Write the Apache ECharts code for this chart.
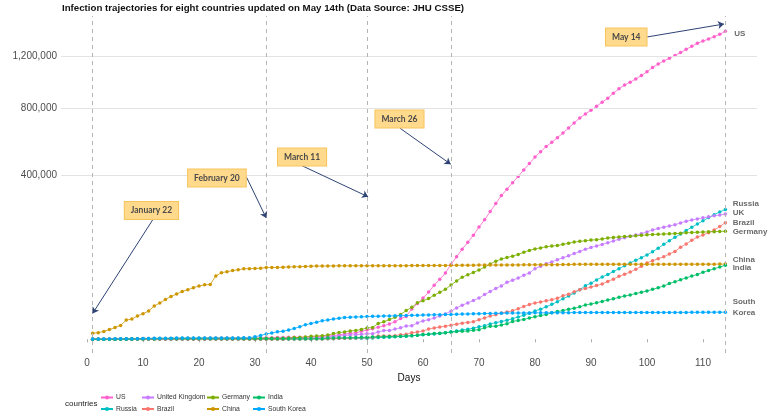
<!DOCTYPE html>
<html>
<head>
<meta charset="utf-8">
<title>Infection trajectories</title>
<script src="https://cdn.jsdelivr.net/npm/echarts@6/dist/echarts.min.js"></script>
<style>
  html, body { margin: 0; padding: 0; background: #fff; }
  #main { width: 771px; height: 417px; }
</style>
</head>
<body>
<div id="main"></div>
<script>
// cumulative confirmed cases, day 1 = Jan 22 ... day 114 = May 14
const usCases = [
  1, 1, 2, 2, 5, 5, 5, 6, 6, 8,
  8, 8, 11, 11, 12, 12, 12, 12, 12, 12, 13, 13, 15, 15, 15, 15, 15, 15, 15, 15, 35, 35, 35, 53, 53, 59, 60, 62, 70,
  76, 101, 122, 153, 221, 278, 417, 537, 605, 959, 1281, 1663, 2179, 2726, 3499, 4632, 6421, 7786, 13680, 19101, 25489, 33276, 43847, 53740, 65778, 83836, 101657, 121478, 140886, 161807, 188172,
  213372, 243762, 275586, 308853, 337072, 366667, 396223, 429052, 461437, 496535, 526396, 555313, 580619, 607670, 636350, 667801, 699706, 732197, 758809, 784326, 811865, 840351, 869170, 905358, 938154, 965785, 988197, 1012582, 1039909, 1069424,
  1103461, 1132539, 1158040, 1180375, 1204351, 1229331, 1257023, 1283929, 1309550, 1329260, 1347881, 1369376, 1390406, 1417774
]
const russiaCases = [
  0, 0, 0, 0, 0, 0, 0, 0, 0, 2,
  2, 2, 2, 2, 2, 2, 2, 2, 2, 2, 2, 2, 2, 2, 2, 2, 2, 2, 2, 2, 2, 2, 2, 2, 2, 2, 2, 2, 2,
  2, 3, 3, 3, 4, 13, 13, 17, 17, 20, 20, 28, 45, 59, 63, 90, 114, 147, 199, 253, 306, 367, 438, 495, 658, 840, 1036, 1264, 1534, 1836, 2337,
  2777, 3548, 4149, 4731, 5389, 6343, 7497, 8672, 10131, 11917, 13584, 15770, 18328, 21102, 24490, 27938, 32008, 36793, 42853, 47121, 52763, 57999, 62773, 68622, 74588, 80949, 87147, 93558, 99399, 106498,
  114431, 124054, 134687, 145268, 155370, 165929, 177160, 187859, 198676, 209688, 221344, 232243, 242271, 252245
]
const ukCases = [
  0, 0, 0, 0, 0, 0, 0, 0, 0, 2,
  2, 2, 2, 2, 2, 3, 3, 3, 3, 8, 8, 9, 9, 9, 9, 9, 9, 9, 9, 9, 9, 9, 9, 13, 13, 13, 15, 20, 23,
  36, 40, 51, 86, 116, 164, 207, 274, 322, 384, 459, 459, 802, 1144, 1145, 1551, 1960, 2642, 2716, 4014, 5067, 5745, 6726, 8164, 9640, 11812, 14745, 17312, 19780, 22453, 25481,
  29865, 34173, 38689, 42477, 48436, 52279, 55949, 61474, 65872, 74605, 79874, 85206, 89570, 94845, 99483, 104145, 109769, 115314, 121172, 125856, 130172, 134638, 139246, 144640, 149569, 154037, 158348, 162350, 166441, 172481,
  178685, 183500, 187842, 191832, 196243, 202359, 207977, 212629, 216525, 220449, 224332, 227741, 230985, 234440
]
const brazilCases = [
  0, 0, 0, 0, 0, 0, 0, 0, 0, 0,
  0, 0, 0, 0, 0, 0, 0, 0, 0, 0, 0, 0, 0, 0, 0, 0, 0, 0, 0, 0, 0, 0, 0, 0, 0, 1, 1, 1, 2,
  2, 2, 2, 4, 4, 13, 13, 20, 25, 31, 38, 52, 151, 151, 162, 200, 321, 372, 621, 793, 1021, 1546, 1924, 2247, 2554, 2985, 3417, 3904, 4256, 4579, 5717,
  6836, 8044, 9056, 10360, 11130, 12161, 14034, 16170, 18092, 19638, 20727, 22192, 23430, 25262, 28320, 30425, 33682, 36658, 38654, 40743, 43079, 45757, 50036, 54043, 59324, 63100, 67446, 73235, 79685, 87187,
  92202, 97100, 101826, 108620, 115455, 126611, 135773, 146894, 156061, 162699, 169594, 178214, 190137, 203165
]
const germanyCases = [
  0, 0, 0, 0, 0, 1, 4, 4, 4, 5,
  8, 10, 12, 12, 12, 12, 13, 13, 14, 14, 16, 16, 16, 16, 16, 16, 16, 16, 16, 16, 16, 16, 16, 16, 17, 27, 46, 48, 79,
  130, 159, 196, 262, 482, 670, 799, 1040, 1176, 1457, 1908, 2078, 3675, 4585, 5795, 7272, 9257, 12327, 15320, 19848, 22213, 24873, 29056, 32986, 37323, 43938, 50871, 57695, 62095, 66885, 71808,
  77872, 84794, 91159, 96092, 100123, 103374, 107663, 113296, 118181, 122171, 124908, 127854, 130072, 131359, 134753, 137698, 141397, 143342, 145184, 147065, 148291, 150648, 153129, 154999, 156513, 157770, 158758, 159912, 161539, 163009,
  164077, 164967, 165664, 166152, 167007, 168162, 169430, 170588, 171324, 171879, 172576, 173171, 174098, 174478
]
const chinaCases = [
  548, 643, 920, 1406, 2075, 2877, 5509, 6087, 8141, 9802,
  11891, 16630, 19716, 23707, 27440, 30587, 34110, 36814, 39829, 42354, 44386, 44759, 59895, 66358, 68413, 70513, 72434, 74211, 74619, 75077, 75550, 77001, 77022, 77241, 77754, 78166, 78600, 78928, 79356,
  79932, 80136, 80261, 80386, 80537, 80690, 80770, 80823, 80860, 80887, 80921, 80932, 80945, 80977, 81003, 81033, 81058, 81102, 81156, 81250, 81305, 81435, 81498, 81591, 81661, 81782, 81897, 81999, 82122, 82198, 82279,
  82361, 82432, 82511, 82543, 82602, 82665, 82718, 82809, 82883, 82941, 83014, 83134, 83213, 83306, 83356, 83403, 84149, 84180, 84201, 84237, 84250, 84287, 84302, 84311, 84324, 84338, 84341, 84347, 84367, 84369,
  84373, 84385, 84388, 84393, 84404, 84407, 84415, 84416, 84450, 84451, 84458, 84464, 84484, 84487
]
const indiaCases = [
  0, 0, 0, 0, 0, 0, 0, 0, 1, 1,
  1, 2, 3, 3, 3, 3, 3, 3, 3, 3, 3, 3, 3, 3, 3, 3, 3, 3, 3, 3, 3, 3, 3, 3, 3, 3, 3, 3, 3,
  3, 5, 5, 28, 30, 31, 34, 39, 43, 56, 62, 73, 82, 102, 113, 119, 142, 156, 194, 244, 330, 396, 499, 536, 657, 727, 887, 987, 1024, 1251, 1397,
  1998, 2543, 2567, 3082, 3588, 4778, 5311, 5916, 6725, 7598, 8446, 9205, 10453, 11487, 12322, 13430, 14352, 15722, 17615, 18539, 20080, 21370, 23077, 24530, 26283, 27890, 29451, 31324, 33062, 34863,
  37257, 39699, 42505, 46437, 49400, 52987, 56351, 59695, 62808, 67161, 70768, 74292, 78055, 81997
]
const koreaCases = [
  1, 1, 2, 2, 3, 4, 4, 4, 4, 11,
  12, 15, 15, 16, 19, 23, 24, 24, 25, 27, 28, 28, 28, 28, 28, 29, 30, 31, 31, 104, 204, 433, 602, 833, 977, 1261, 1766, 2337, 3150,
  3736, 4335, 5186, 5621, 6088, 6593, 7041, 7314, 7478, 7513, 7755, 7869, 7979, 8086, 8162, 8236, 8320, 8413, 8565, 8652, 8799, 8897, 8961, 9037, 9137, 9241, 9332, 9478, 9583, 9661, 9786,
  9887, 9976, 10062, 10156, 10237, 10284, 10331, 10384, 10423, 10450, 10480, 10512, 10537, 10564, 10591, 10613, 10635, 10653, 10661, 10674, 10683, 10694, 10708, 10718, 10728, 10738, 10752, 10761, 10765, 10774,
  10780, 10793, 10801, 10804, 10806, 10810, 10822, 10840, 10874, 10909, 10936, 10962, 10991, 11018
]

const countries = ['US', 'Russia', 'United Kingdom', 'Brazil', 'Germany', 'China', 'India', 'South Korea']
const countryCases = [usCases, russiaCases, ukCases, brazilCases, germanyCases, chinaCases, indiaCases, koreaCases]
const countryColors = ['#FF61CC', '#00BFC4', '#C77CFF', '#F8766D', '#7CAE00', '#CD9600', '#00BE67', '#00A9FF']
const endLabels = ['US', 'Russia', 'UK', 'Brazil', 'Germany', 'China', 'India', 'South\nKorea']

const xTicks = [0, 10, 20, 30, 40, 50, 60, 70, 80, 90, 100, 110]
const yTicks = [400000, 800000, 1200000]
const eventDays = [1, 32, 50, 65, 114]
const eventNames = ['January 22', 'February 20', 'March 11', 'March 26', 'May 14']

// layout of the call-outs, in axis units (day, sqrt of cases)
const noteBox = [[11.5, 498], [23.2, 624], [38.4, 705], [55.8, 852], [96.3, 1169]]
const noteFrom = [[11.7, 461], [28.5, 626], [38.4, 671], [55.9, 816], [100.05, 1169]]
const noteTo = [[1, 100], [32, 469], [50.2, 551], [64.95, 677], [113.75, 1219]]
const endLabelPos = [[115.6, 1183], [115.3, 522], [115.3, 488], [115.3, 452], [115.3, 416], [115.3, 309], [115.3, 277], [115.3, 123]]

// sqrt scale: the axis runs on sqrt(cases)
const sq = v => Math.sqrt(v)

let series = []
series.push({
  name: '_guides',
  type: 'line',
  data: [],
  silent: true,
  z: 1,
  markLine: {
    silent: true,
    symbol: 'none',
    animation: false,
    label: { show: false },
    data: yTicks.map(v => ({ yAxis: sq(v), lineStyle: { color: '#e3e3e3', type: 'solid', width: 1 } }))
      .concat(eventDays.map(d => ({ xAxis: d, lineStyle: { color: '#b5b5b5', type: [4, 4], width: 1 } })))
  }
})
countries.forEach((name, i) => {
  series.push({
    name: name,
    type: 'line',
    z: 2,
    symbol: 'circle',
    symbolSize: 3.5,
    color: countryColors[i],
    lineStyle: { width: 0.8 },
    emphasis: { disabled: true },
    data: countryCases[i].map((v, k) => [k + 1, sq(v)])
  })
})
series.push({
  name: '_notes',
  type: 'line',
  data: [],
  silent: true,
  z: 3,
  markLine: {
    silent: true,
    animation: false,
    symbol: ['none', 'arrow'],
    symbolSize: 6,
    label: { show: false },
    lineStyle: { color: '#2F4374', type: 'solid', width: 1 },
    data: noteFrom.map((p, i) => [{ coord: p }, { coord: noteTo[i] }])
  },
  markPoint: {
    silent: true,
    animation: false,
    symbolSize: 0,
    data: eventNames.map((t, i) => ({
      coord: noteBox[i],
      label: {
        show: true,
        position: 'inside',
        formatter: t,
        fontFamily: 'Lato',
        fontWeight: 'bold',
        fontSize: 8.5,
        lineHeight: 9,
        color: '#4a4a4a',
        backgroundColor: '#FFD98C',
        borderColor: '#F6C45C',
        borderWidth: 1,
        padding: [4, 6]
      }
    })).concat(endLabels.map((t, i) => ({
      coord: endLabelPos[i],
      label: {
        show: true,
        position: 'right',
        distance: 0,
        formatter: t,
        fontFamily: 'Liberation Sans',
        fontWeight: 'bold',
        fontSize: 8,
        lineHeight: 11.5,
        color: '#6b6b6b'
      }
    })))
  }
})

const legendCols = [[100, ['US', 'Russia']], [141, ['United Kingdom', 'Brazil']], [206, ['Germany', 'China']], [252, ['India', 'South Korea']]]

const option = {
  animation: false,
  backgroundColor: '#ffffff',
  textStyle: { fontFamily: 'Liberation Sans' },
  title: {
    text: 'Infection trajectories for eight countries updated on May 14th (Data Source: JHU CSSE)',
    left: 62,
    top: 3,
    padding: 0,
    textStyle: { fontSize: 9.7, fontWeight: 'bold', color: '#111', fontFamily: 'Liberation Sans' }
  },
  grid: { left: 61, right: 14, top: 16, bottom: 64, outerBoundsMode: 'none' },
  legend: legendCols.map(c => ({
    data: c[1],
    left: c[0],
    top: 394,
    orient: 'vertical',
    padding: 0,
    itemGap: 4.5,
    itemWidth: 12,
    itemHeight: 5,
    selectedMode: false,
    textStyle: { fontSize: 6.8, color: '#333', padding: [0, 0, 0, -2] }
  })),
  graphic: [{
    type: 'text',
    left: 65,
    top: 400,
    style: { text: 'countries', fontSize: 8, fill: '#222', fontFamily: 'Liberation Sans' }
  }],
  xAxis: {
    type: 'value',
    min: -4.65,
    max: 119.65,
    name: 'Days',
    nameLocation: 'middle',
    nameGap: 13,
    nameTextStyle: { fontSize: 10, color: '#111' },
    axisLine: { show: false },
    splitLine: { show: false },
    axisTick: { show: true, customValues: xTicks, length: 3, lineStyle: { color: '#aaa' } },
    axisLabel: { customValues: xTicks, fontSize: 10, color: '#4d4d4d', margin: 5 }
  },
  yAxis: {
    type: 'value',
    min: -53,
    max: 1250,
    name: 'Cumulative number of infected cases',
    nameLocation: 'middle',
    nameGap: 52,
    nameTextStyle: { fontSize: 10, color: '#111' },
    axisLine: { show: false },
    splitLine: { show: false },
    axisTick: { show: true, customValues: yTicks.map(sq), length: 3, lineStyle: { color: '#aaa' } },
    axisLabel: {
      customValues: yTicks.map(sq),
      fontSize: 10,
      color: '#4d4d4d',
      margin: 4,
      formatter: v => Math.round(v * v).toLocaleString('en-US')
    }
  },
  series: series
}

const chart = echarts.init(document.getElementById('main'), null, { renderer: 'canvas' })
chart.setOption(option)
</script>
</body>
</html>
